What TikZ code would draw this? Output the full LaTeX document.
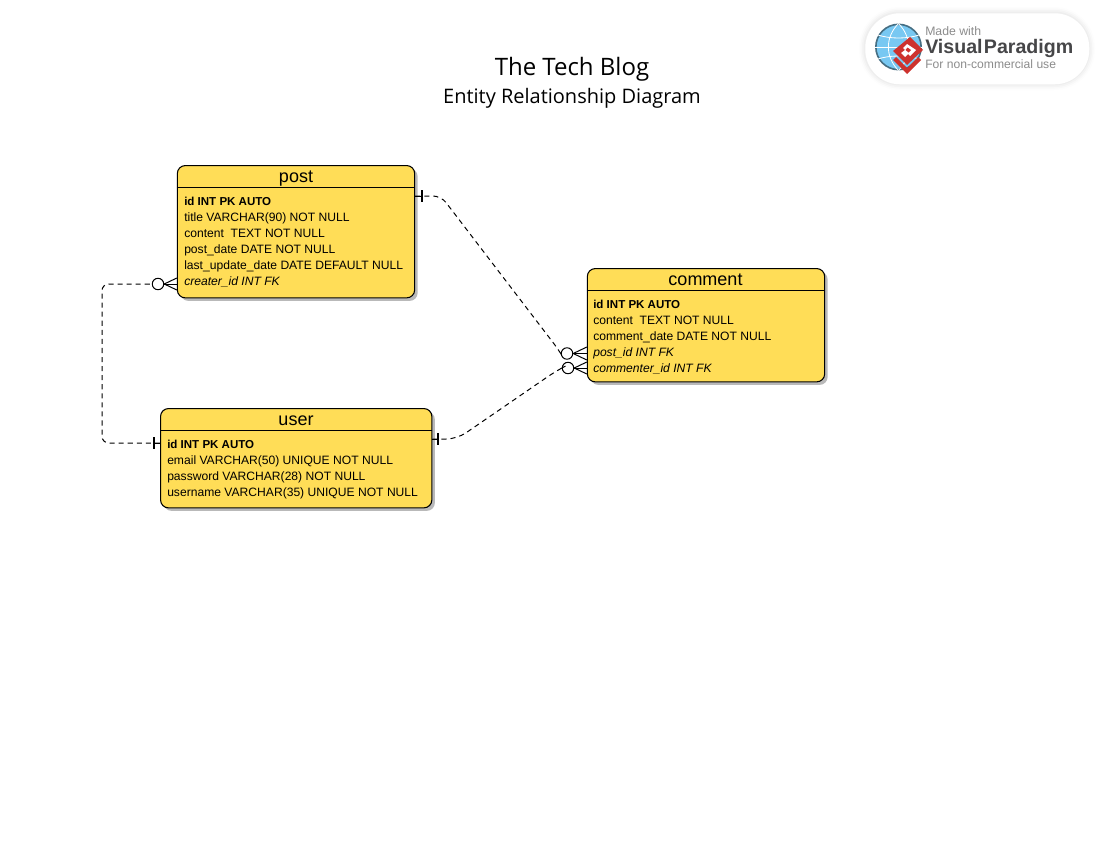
\documentclass[tikz,border=0pt]{standalone}
\usepackage{fontspec}
\setmainfont{Liberation Sans}
\newfontfamily\titlefont{Open Sans}
\usepackage{tikz}
\usetikzlibrary{arrows.meta, positioning, shadows, calc}
\definecolor{entityyellow}{RGB}{255, 221, 87}
\definecolor{entityshadow}{RGB}{185, 185, 185}
\definecolor{globeblue}{RGB}{120, 200, 242}
\definecolor{globerim}{RGB}{70, 110, 130}
\definecolor{logored}{RGB}{205, 50, 45}
\definecolor{logogray}{RGB}{140, 140, 140}
\definecolor{logodark}{RGB}{70, 70, 72}
\tikzset{
  entity/.style={rectangle, draw=black, line width=0.8pt, rounded corners=6pt, fill=entityyellow, anchor=north west, inner sep=0pt,
    drop shadow={shadow xshift=2.25pt, shadow yshift=-2.25pt, fill=entityshadow, opacity=1}},
  entityname/.style={font=\fontsize{13.5}{15}\selectfont, inner sep=0pt, anchor=base},
  fieldline/.style={anchor=base west, inner sep=0pt, font=\fontsize{9.08}{12}\selectfont},
  keyline/.style={anchor=base west, inner sep=0pt, font=\bfseries\fontsize{8.65}{12}\selectfont},
  relline/.style={line width=0.75pt, dash pattern=on 3.8pt off 3pt},
  crowcircle/.style={circle, draw=black, line width=0.75pt, fill=white, minimum size=8.6pt, inner sep=0pt},
  crowfoot/.style={line width=0.75pt},
  crowbar/.style={line width=1.1pt},
  logotext/.style={anchor=west, inner sep=0pt, text=logogray}
}
\begin{document}
\begin{tikzpicture}[x=0.75pt, y=-0.75pt]
\useasboundingbox (0,0) rectangle (1100,850);
% titles
\node[font=\titlefont\fontsize{18}{20}\selectfont, inner sep=0pt, anchor=base] (title) at (572,75) {The Tech Blog};
\node[font=\titlefont\fontsize{15}{18}\selectfont, inner sep=0pt, anchor=base] (subtitle) at (572,103) {Entity Relationship Diagram};
% logo
\foreach \w/\o in {12/0.02, 9/0.03, 6/0.04, 3/0.05}
  \draw[gray, line width=\w*0.75pt, opacity=\o, rounded corners=26pt] (865,13) rectangle (1089,84);
\node[rectangle, fill=white, rounded corners=26pt, minimum width=168pt, minimum height=53.25pt, anchor=north west, inner sep=0pt] (badge) at (865,13) {};
\node[circle, draw=globerim, line width=1.2pt, fill=globeblue, minimum size=34pt, inner sep=0pt] (globe) at (898.5,47) {};
\draw[white, line width=0.6pt] (globe.north) .. controls (885,37) and (885,57) .. (globe.south);
\draw[white, line width=0.6pt] (globe.north) .. controls (912,37) and (912,57) .. (globe.south);
\draw[white, line width=0.6pt] (globe.west) -- (globe.east);
\draw[white, line width=0.6pt] (878,35) .. controls (890,39) and (907,39) .. (919,35);
\draw[white, line width=0.6pt] (878,59) .. controls (890,55) and (907,55) .. (919,59);
\fill[logored] (893,60) -- (907,74) -- (921,60) -- (918,57) -- (907,68) -- (896,57) -- cycle;
\fill[logored] (910,37) -- (923,50) -- (907,65) -- (893,51) -- cycle;
\fill[white] (907,44) -- (916,50) -- (910,56) -- (908,54) -- (905,57) -- (901,53) -- (905,50) -- (903,48) -- cycle;
\fill[logored] (907.5,47.5) -- (911,50) -- (908.5,52.5) -- (905.5,50) -- cycle;
\node[logotext, font=\fontsize{9.2}{10}\selectfont] (made) at (925,31) {Made with};
\node[logotext, text=logodark, font=\bfseries\fontsize{14.7}{18}\selectfont] (vp) at (925,48) {Visual\kern1pt Paradigm};
\node[logotext, font=\fontsize{9.1}{10}\selectfont] (noncom) at (925,64.5) {For non-commercial use};
% entities
\node[entity, minimum width=178pt, minimum height=99.25pt] (post) at (176.8,165) {};
\node[entity, minimum width=178pt, minimum height=85pt] (comment) at (586.8,268) {};
\node[entity, minimum width=203.5pt, minimum height=74.5pt] (user) at (160,408) {};
\draw[line width=0.75pt] (post.west |- 0,187) -- (post.east |- 0,187);
\draw[line width=0.75pt] (comment.west |- 0,290) -- (comment.east |- 0,290);
\draw[line width=0.75pt] (user.west |- 0,430) -- (user.east |- 0,430);
\node[entityname] (postname) at (296,182) {post};
\node[entityname] (commentname) at (705.5,285) {comment};
\node[entityname] (username) at (296,425) {user};
% fields
\node[keyline] (p1) at (184,205) {id INT PK AUTO};
\node[fieldline] (p2) at (184,221) {title VARCHAR(90) NOT NULL};
\node[fieldline] (p3) at (184,237) {content\ \ TEXT NOT NULL};
\node[fieldline] (p4) at (184,253) {post\_date DATE NOT NULL};
\node[fieldline] (p5) at (184,269) {last\_update\_date DATE DEFAULT NULL};
\node[fieldline] (p6) at (184,285) {\textit{creater\_id INT FK}};
\node[keyline] (c1) at (593,308) {id INT PK AUTO};
\node[fieldline] (c2) at (593,324) {content\ \ TEXT NOT NULL};
\node[fieldline] (c3) at (593,340) {comment\_date DATE NOT NULL};
\node[fieldline] (c4) at (593,356) {\textit{post\_id INT FK}};
\node[fieldline] (c5) at (593,372) {\textit{commenter\_id INT FK}};
\node[keyline] (u1) at (167,448) {id INT PK AUTO};
\node[fieldline] (u2) at (167,464) {email VARCHAR(50) UNIQUE NOT NULL};
\node[fieldline] (u3) at (167,480) {password VARCHAR(28) NOT NULL};
\node[fieldline] (u4) at (167,496) {username VARCHAR(35) UNIQUE NOT NULL};
% relationship ends
\coordinate (postout) at (post.east |- 0,196);
\coordinate (userout) at (user.east |- 0,439);
\coordinate (userup) at (user.west |- 0,443);
\node[crowcircle] (cpost) at (158,284) {};
\node[crowcircle] (cfirst) at (567,353.5) {};
\node[crowcircle] (csecond) at (568,368) {};
% connectors
\draw[relline, rounded corners=6pt] (postout) -- (441,196) -- (558,349) -- (cfirst.west);
\draw[relline, rounded corners=8pt] (userout) -- (457,439) -- (556,371) -- (csecond.west);
\draw[relline, rounded corners=5pt] (userup) -- (102,443) -- (102,284) -- (cpost.west);
% crow feet and bars
\draw[crowfoot] (cpost.east) -- (post.west |- 0,278);
\draw[crowfoot] (cpost.east) -- (post.west |- 0,284);
\draw[crowfoot] (cpost.east) -- (post.west |- 0,290);
\draw[crowfoot] (cfirst.east) -- (comment.west |- 0,347);
\draw[crowfoot] (cfirst.east) -- (comment.west |- 0,353.5);
\draw[crowfoot] (cfirst.east) -- (comment.west |- 0,360);
\draw[crowfoot] (csecond.east) -- (comment.west |- 0,362);
\draw[crowfoot] (csecond.east) -- (comment.west |- 0,368);
\draw[crowfoot] (csecond.east) -- (comment.west |- 0,374);
\draw[crowfoot] (postout) -- (422,196);
\draw[crowbar] (422,190) -- (422,202);
\draw[crowfoot] (userout) -- (438,439);
\draw[crowbar] (438,433) -- (438,445);
\draw[crowfoot] (userup) -- (154,443);
\draw[crowbar] (154,437) -- (154,449);
\end{tikzpicture}
\end{document}
